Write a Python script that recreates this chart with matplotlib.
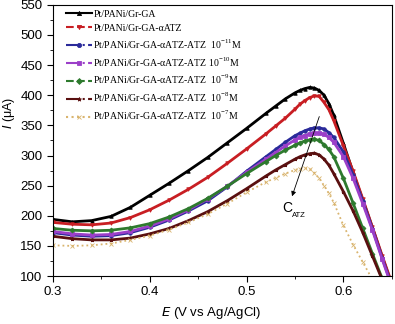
import matplotlib
matplotlib.use('Agg')
import matplotlib.pyplot as plt
from matplotlib.lines import Line2D
from matplotlib.ticker import MultipleLocator

# potential (V vs Ag/AgCl)
E = [0.30, 0.32, 0.34, 0.36, 0.38, 0.40, 0.42, 0.44, 0.46, 0.48, 0.50,
     0.52, 0.53, 0.54, 0.55, 0.555, 0.56, 0.565, 0.57, 0.575, 0.58, 0.585,
     0.59, 0.60, 0.61, 0.62, 0.63, 0.64, 0.65]

# current (uA)
i_ga = [194, 190, 192, 199, 214, 234, 254, 275, 297, 321, 345,
        370, 382, 394, 404, 408, 411, 413, 412, 408, 400, 386,
        367, 320, 272, 226, 180, 132, 86]
i_aatz = [189, 186, 185, 188, 197, 210, 226, 244, 264, 287, 311,
          336, 349, 362, 377, 385, 391, 396, 399, 398, 388, 376,
          358, 316, 274, 228, 181, 134, 88]
i_11 = [172, 168, 166, 167, 172, 181, 193, 208, 225, 248, 274,
        298, 310, 322, 333, 337, 341, 344, 346, 346, 344, 338,
        330, 306, 268, 224, 178, 130, 84]
i_10 = [174, 170, 168, 169, 174, 183, 195, 210, 228, 249, 272,
        294, 305, 316, 326, 330, 333, 336, 337, 337, 335, 330,
        322, 298, 262, 220, 176, 128, 82]
i_9 = [179, 176, 175, 176, 180, 187, 198, 212, 229, 249, 270,
       290, 300, 309, 317, 321, 324, 326, 327, 325, 318, 310,
       298, 262, 221, 179, 137, 96, 56]
i_8 = [166, 162, 160, 160, 163, 170, 179, 192, 207, 225, 245,
       266, 276, 285, 294, 298, 301, 303, 304, 301, 294, 284,
       270, 240, 208, 172, 133, 94, 55]
i_7 = [151, 150, 151, 154, 160, 167, 177, 189, 203, 220, 239,
       256, 263, 270, 276, 278, 279, 278, 271, 262, 250, 237,
       222, 184, 152, 123, 94, 65, 36]

labels = ["Pt/PANi/Gr-GA",
          "Pt/PANi/Gr-GA-\u03b1ATZ",
          "Pt/PANi/Gr-GA-\u03b1ATZ-ATZ  10$^{\\mathregular{-11}}$M",
          "Pt/PANi/Gr-GA-\u03b1ATZ-ATZ 10$^{\\mathregular{-10}}$M",
          "Pt/PANi/Gr-GA-\u03b1ATZ-ATZ  10$^{\\mathregular{-9}}$M",
          "Pt/PANi/Gr-GA-\u03b1ATZ-ATZ  10$^{\\mathregular{-8}}$M",
          "Pt/PANi/Gr-GA-\u03b1ATZ-ATZ  10$^{\\mathregular{-7}}$M"]
series = [i_ga, i_aatz, i_11, i_10, i_9, i_8, i_7]
colors = ["#000000", "#c81e23", "#2a2a9a", "#9b3fc8", "#2e7a2e", "#5a1010", "#d9b46e"]
markers = ["^", "v", "o", "s", "D", "*", "x"]
styles = ["-", "--", "-.", "-.", "--", "-.", ":"]
widths = [2.0, 2.0, 2.0, 2.0, 2.0, 2.0, 1.3]

plt.rcParams['font.family'] = ['Liberation Sans', 'DejaVu Sans']

fig = plt.figure(figsize=(3.95, 3.24), dpi=100)
ax = fig.add_axes([0.134, 0.148, 0.858, 0.837])

handles = []
for y, lab, c, m, ls, w in zip(series, labels, colors, markers, styles, widths):
    plot_ls = ':' if ls == ':' else '-'
    ax.plot(E, y, color=c, ls=plot_ls, lw=w, marker=m, ms=2.5, mew=0.6)
    handles.append(Line2D([], [], color=c, ls=ls, lw=1.5, marker=m, ms=3, mew=0.6))

ax.set_xlim(0.3, 0.65)
ax.set_ylim(100, 550)
ax.xaxis.set_major_locator(MultipleLocator(0.1))
ax.xaxis.set_minor_locator(MultipleLocator(0.05))
ax.yaxis.set_major_locator(MultipleLocator(50))
ax.yaxis.set_minor_locator(MultipleLocator(25))
ax.tick_params(which='both', direction='out', labelsize=9.5)
ax.tick_params(which='major', length=4)
ax.tick_params(which='minor', length=2.5)

ax.set_xlabel("$\\it{E}$ (V vs Ag/AgCl)", fontsize=9.5)
ax.set_ylabel("$\\it{I}$ (\u03bcA)", fontsize=9)
ax.xaxis.set_label_coords(0.468, -0.105)
ax.yaxis.set_label_coords(-0.105, 0.6)

ax.annotate("", xy=(0.546, 228), xytext=(0.576, 369),
            arrowprops=dict(arrowstyle='-|>', color='black', lw=0.6,
                            mutation_scale=7))
ax.text(0.5423, 213, "C", fontsize=10, ha='center', va='center')
ax.text(0.5464, 201, "ATZ", fontsize=5.5, ha='left', va='center')

ax.legend(handles, labels, loc='upper left', bbox_to_anchor=(0.025, 1.0),
          prop={'family': 'Liberation Serif', 'size': 7},
          frameon=False, handlelength=2.6, handletextpad=0.2,
          labelspacing=0.5, borderaxespad=0.3, borderpad=0.2)

fig.savefig('out.png', dpi=100)
